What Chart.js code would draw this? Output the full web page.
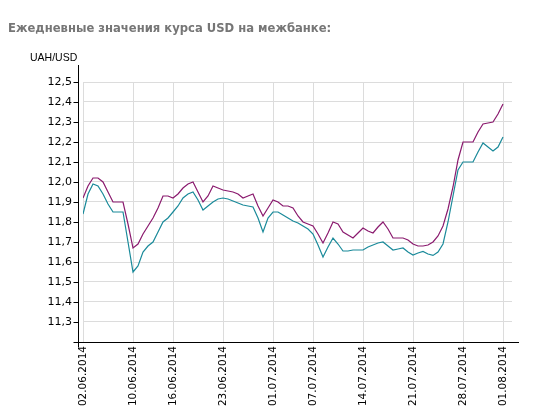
<!DOCTYPE html>
<html>
<head>
<meta charset="utf-8">
<script src="https://cdn.jsdelivr.net/npm/chart.js@4.4.1/dist/chart.umd.min.js"></script>
<style>
    body { margin: 0; background: #fff; }
    #wrap { position: relative; width: 536px; height: 418px; }
    #titulo { position: absolute; left: 8px; top: 21px; font: bold 11.6px "DejaVu Sans", Verdana, sans-serif; color: #767676; white-space: nowrap; }
    #unidade { position: absolute; left: 30px; top: 51px; font: 10.5px "Liberation Sans", Arial, sans-serif; color: #000; }
    canvas { position: absolute; left: 0; top: 0; }
</style>
</head>
<body>
<div id="wrap">
    <canvas id="grafico" width="536" height="418"></canvas>
    <div id="titulo">Ежедневные значения курса USD на межбанке:</div>
    <div id="unidade">UAH/USD</div>
</div>
<script>
// подписи оси X (индекс точки -> дата)
const tickIdx = [0, 10, 18, 28, 38, 46, 56, 66, 76, 84];
const tickLabels = ['02.06.2014', '10.06.2014', '16.06.2014', '23.06.2014', '01.07.2014',
    '07.07.2014', '14.07.2014', '21.07.2014', '28.07.2014', '01.08.2014'];

const yTicks = [11.3, 11.4, 11.5, 11.6, 11.7, 11.8, 11.9, 12.0, 12.1, 12.2, 12.3, 12.4, 12.5];

// продажа (верхняя линия)
const sellRate = [
    11.92, 11.98, 12.02, 12.02, 12.00, 11.95, 11.90, 11.90, 11.90, 11.79,
    11.67, 11.69, 11.74, 11.78, 11.82, 11.87, 11.93, 11.93, 11.92, 11.94,
    11.97, 11.99, 12.00, 11.95, 11.90, 11.93, 11.98, 11.97, 11.96, 11.955,
    11.95, 11.94, 11.92, 11.93, 11.94, 11.88, 11.83, 11.87, 11.91, 11.90,
    11.88, 11.88, 11.87, 11.83, 11.80, 11.79, 11.78, 11.74, 11.695, 11.745,
    11.80, 11.79, 11.75, 11.735, 11.72, 11.745, 11.77, 11.755, 11.745, 11.775,
    11.80, 11.765, 11.72, 11.72, 11.72, 11.71, 11.69, 11.68, 11.68, 11.685,
    11.70, 11.73, 11.78, 11.865, 11.975, 12.11, 12.20, 12.20, 12.20, 12.25,
    12.29, 12.295, 12.30, 12.34, 12.39
];

// покупка (нижняя линия)
const buyRate = [
    11.84, 11.94, 11.99, 11.98, 11.94, 11.89, 11.85, 11.85, 11.85, 11.70,
    11.55, 11.58, 11.65, 11.68, 11.70, 11.75, 11.80, 11.82, 11.85, 11.88,
    11.92, 11.94, 11.95, 11.91, 11.86, 11.88, 11.90, 11.915, 11.92, 11.915,
    11.905, 11.895, 11.885, 11.88, 11.875, 11.82, 11.75, 11.82, 11.85, 11.85,
    11.835, 11.82, 11.805, 11.795, 11.78, 11.765, 11.74, 11.685, 11.625, 11.675,
    11.72, 11.69, 11.655, 11.655, 11.66, 11.66, 11.66, 11.675, 11.685, 11.695,
    11.70, 11.68, 11.66, 11.665, 11.67, 11.65, 11.635, 11.645, 11.653, 11.64,
    11.633, 11.65, 11.69, 11.80, 11.93, 12.06, 12.10, 12.10, 12.10, 12.15,
    12.195, 12.175, 12.155, 12.175, 12.225
];

// оси рисуются отдельно: они смещены от сетки, как в оригинале
const osiPlugin = {
    id: 'osi',
    afterDraw(chart) {
        const { ctx, chartArea, scales } = chart;
        const ax = Math.round(chartArea.left) - 5 + 0.5;
        const ay = Math.round(chartArea.bottom) + 0.5;
        ctx.save();
        ctx.strokeStyle = '#000';
        ctx.lineWidth = 1;
        ctx.beginPath();
        ctx.moveTo(ax, chartArea.top - 17);
        ctx.lineTo(ax, ay + 5);
        ctx.moveTo(ax - 5, ay);
        ctx.lineTo(chartArea.right + 7, ay);
        yTicks.forEach(v => {
            const py = Math.round(scales.y.getPixelForValue(v)) + 0.5;
            ctx.moveTo(ax - 5, py);
            ctx.lineTo(ax, py);
        });
        ctx.stroke();
        ctx.restore();
    }
};

const ctx = document.getElementById('grafico').getContext('2d');

new Chart(ctx, {
    type: 'line',
    data: {
        datasets: [
            {
                label: 'Продажа',
                data: sellRate.map((v, i) => ({ x: i, y: v })),
                borderColor: '#8a1a6e',
                borderWidth: 1.2,
                pointRadius: 0,
                tension: 0
            },
            {
                label: 'Покупка',
                data: buyRate.map((v, i) => ({ x: i, y: v })),
                borderColor: '#1a8a9a',
                borderWidth: 1.2,
                pointRadius: 0,
                tension: 0
            }
        ]
    },
    options: {
        responsive: false,
        animation: false,
        layout: {
            padding: { top: 82, left: 0, right: 24, bottom: 0 }
        },
        plugins: {
            legend: { display: false },
            tooltip: { enabled: false }
        },
        scales: {
            x: {
                type: 'linear',
                min: 0,
                max: 85.8,
                afterBuildTicks: scale => {
                    scale.ticks = tickIdx.map(v => ({ value: v }));
                },
                afterFit: scale => { scale.height = 76; },
                grid: { color: '#dcdcdc', drawTicks: false },
                border: { display: false },
                ticks: {
                    autoSkip: false,
                    minRotation: 90,
                    maxRotation: 90,
                    padding: 4,
                    color: '#000',
                    font: { family: 'DejaVu Sans', size: 10.5 },
                    callback: value => {
                        const k = tickIdx.indexOf(value);
                        return k >= 0 ? tickLabels[k] : null;
                    }
                }
            },
            y: {
                min: 11.2,
                max: 12.5,
                afterBuildTicks: scale => {
                    scale.ticks = yTicks.map(v => ({ value: v }));
                },
                afterFit: scale => { scale.width = 83; },
                grid: { color: '#dcdcdc', drawTicks: false },
                border: { display: false },
                ticks: {
                    padding: 11,
                    color: '#000',
                    font: { family: 'DejaVu Sans', size: 11 },
                    callback: value => value.toFixed(1).replace('.', ',')
                }
            }
        }
    },
    plugins: [osiPlugin]
});
</script>
</body>
</html>
